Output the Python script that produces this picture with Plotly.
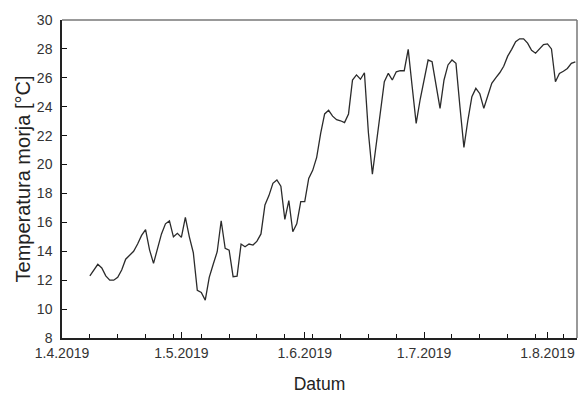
import plotly.graph_objects as go
import pandas as pd

start_date = "2019-04-08"
temperature = [
    12.3, 12.7, 13.1, 12.85, 12.3, 12.0, 12.0, 12.2, 12.7, 13.45,
    13.7, 14.0, 14.5, 15.1, 15.5, 14.1, 13.16, 14.2, 15.2, 15.9,
    16.1, 15.0, 15.24, 14.96, 16.35, 15.0, 13.9, 11.3, 11.15, 10.62,
    12.2, 13.1, 13.97, 16.11, 14.2, 14.08, 12.24, 12.28, 14.5, 14.31,
    14.5, 14.43, 14.7, 15.2, 17.2, 17.85, 18.7, 18.93, 18.5, 16.2,
    17.5, 15.35, 15.9, 17.43, 17.43, 19.04, 19.6, 20.5, 22.16, 23.5,
    23.75, 23.35, 23.1, 23.03, 22.9, 23.5, 25.85, 26.2, 25.9, 26.35,
    22.2, 19.34, 21.47, 23.5, 25.73, 26.31, 25.85, 26.42, 26.49, 26.49,
    27.97, 25.38, 22.85, 24.5, 26.0, 27.23, 27.11, 25.38, 23.89, 25.85,
    26.89, 27.23, 27.0, 24.0, 21.19, 23.08, 24.69, 25.27, 24.9, 23.89,
    24.81, 25.62, 26.0, 26.35, 26.8, 27.5, 27.97, 28.5, 28.7, 28.7,
    28.4, 27.9, 27.7, 28.0, 28.3, 28.35, 28.0, 25.73, 26.3, 26.45,
    26.65, 27.0, 27.1,
]
dates = pd.date_range(start_date, periods=len(temperature), freq="D")

tick_dates = ["2019-04-01", "2019-05-01", "2019-06-01", "2019-07-01", "2019-08-01"]
tick_labels = ["1.4.2019", "1.5.2019", "1.6.2019", "1.7.2019", "1.8.2019"]
y_ticks = list(range(8, 31, 2))

fig = go.Figure()
fig.add_trace(go.Scatter(x=dates, y=temperature, mode="lines",
                         line=dict(color="#2b2b2b", width=1.3), showlegend=False))

font_family = "Liberation Sans, Arial, sans-serif"
fig.update_layout(
    width=579, height=394,
    margin=dict(l=62, r=2, t=20, b=56),
    plot_bgcolor="white", paper_bgcolor="white",
    font=dict(family=font_family, color="#222", size=14),
)
fig.update_xaxes(
    automargin=False,
    range=["2019-04-01", "2019-08-08 10:00"],
    tickmode="array", tickvals=tick_dates, ticktext=tick_labels,
    ticks="inside", ticklen=6, tickwidth=1.2, tickcolor="#111111",
    showline=True, linecolor="#222", linewidth=1.5,
    showgrid=False, zeroline=False,
    tickfont=dict(size=14, color="#333"),
    ticklabelstandoff=1,
    minor=dict(ticks="inside", ticklen=4, tickcolor="#111111", tickwidth=1.2,
               dtick=7 * 86400000, tick0="2019-04-08", showgrid=False),
    title=dict(text="Datum", font=dict(size=17.5, color="#222"), standoff=18),
)
fig.update_yaxes(
    automargin=False,
    range=[8, 30], tickmode="array", tickvals=y_ticks,
    ticks="inside", ticklen=5, tickwidth=1.2, tickcolor="#111111",
    showline=True, linecolor="#222", linewidth=1.5,
    showgrid=False, zeroline=False,
    tickfont=dict(size=14, color="#333"),
    ticklabelstandoff=5,
    title=dict(text="Temperatura morja [°C]", font=dict(size=20, color="#222"), standoff=1),
)
fig.add_shape(type="line", xref="paper", yref="paper", x0=0, x1=1, y0=1, y1=1,
              line=dict(color="#777", width=1.5))
fig.add_shape(type="line", xref="paper", yref="paper", x0=1, x1=1, y0=0, y1=1,
              line=dict(color="#777", width=1.5))

fig.write_html("out.html", config={"displayModeBar": False},
               post_script="document.body.style.margin='0';")
